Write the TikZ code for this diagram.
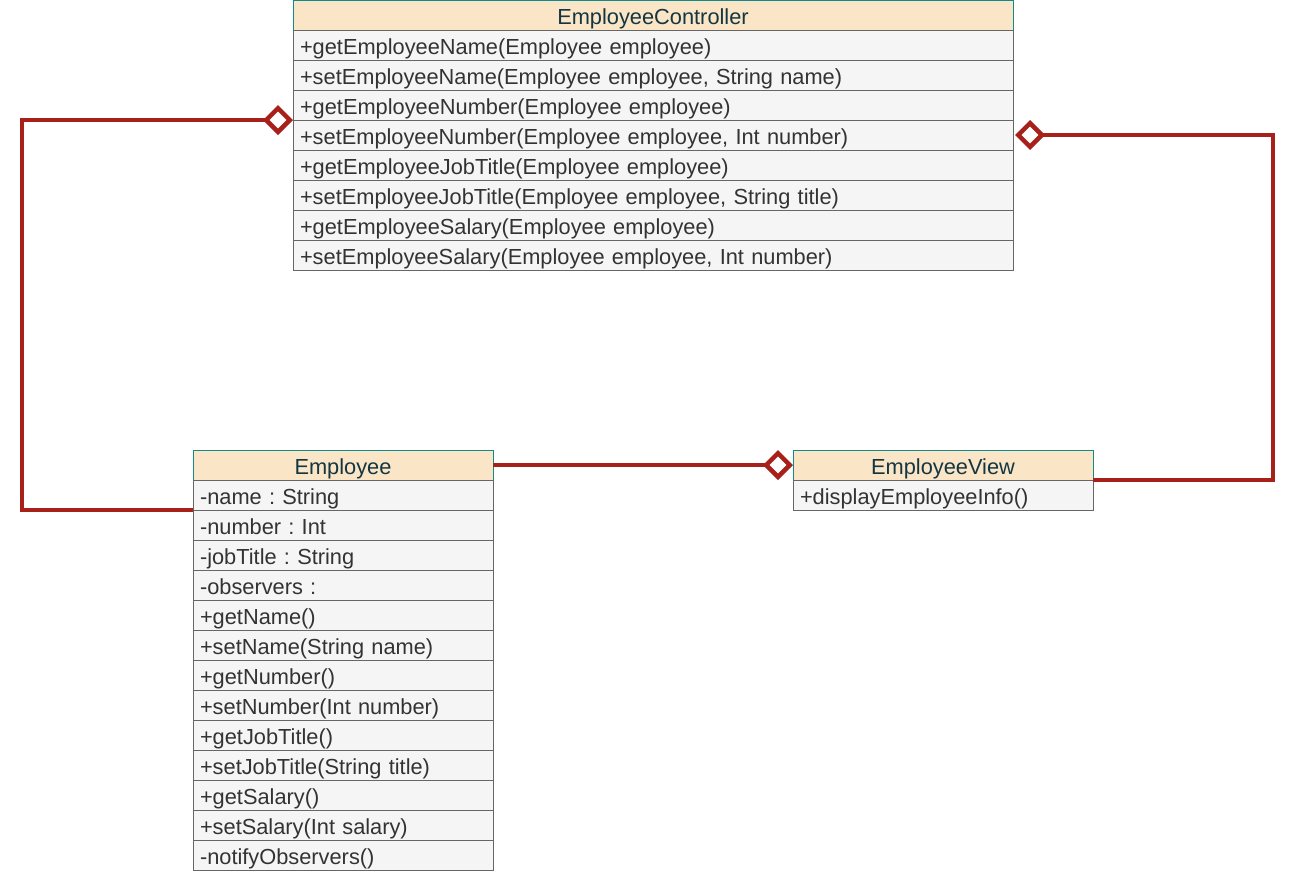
\documentclass[tikz,border=0pt]{standalone}
\usepackage{fontspec}
\setmainfont{Liberation Sans}
\usetikzlibrary{arrows.meta}
\definecolor{hdrfill}{HTML}{FAE5C7}
\definecolor{hdrdraw}{HTML}{0F8B8D}
\definecolor{hdrtext}{HTML}{143642}
\definecolor{rowfill}{HTML}{F5F5F5}
\definecolor{rowdraw}{HTML}{666666}
\definecolor{rowtext}{HTML}{333333}
\definecolor{linkred}{HTML}{A8201A}
\frenchspacing
\begin{document}
\begin{tikzpicture}[x=1pt,y=-1pt,
  cell/.style={rectangle, anchor=north west, outer sep=0pt, inner ysep=0pt, inner xsep=7pt,
    minimum height=30pt, text height=21pt, text depth=3pt, line width=1pt,
    font=\fontsize{21.8}{24}\selectfont},
  hdr/.style={cell, fill=hdrfill, draw=hdrdraw, text=hdrtext, align=center},
  row/.style={cell, fill=rowfill, draw=rowdraw, text=rowtext, align=left},
  wc/.style={text width=706pt},
  we/.style={text width=286pt},
  conn/.style={draw=linkred, line width=4.5pt, -{Diamond[open,length=30pt,width=30pt]}}
]
\useasboundingbox (0,0) rectangle (1299,871);

% EmployeeController
\node[hdr, wc] (ch) at (293,0) {EmployeeController};
\foreach \t [count=\i] in {
  {+getEmployeeName(Employee employee)},
  {+setEmployeeName(Employee employee, String name)},
  {+getEmployeeNumber(Employee employee)},
  {+setEmployeeNumber(Employee employee, Int number)},
  {+getEmployeeJobTitle(Employee employee)},
  {+setEmployeeJobTitle(Employee employee, String title)},
  {+getEmployeeSalary(Employee employee)},
  {+setEmployeeSalary(Employee employee, Int number)}}
  \node[row, wc] (c\i) at (293,30*\i) {\t};

% Employee
\node[hdr, we] (eh) at (193,450) {Employee};
\foreach \t [count=\i] in {
  {-name : String},
  {-number : Int},
  {-jobTitle : String},
  {-observers :},
  {+getName()},
  {+setName(String name)},
  {+getNumber()},
  {+setNumber(Int number)},
  {+getJobTitle()},
  {+setJobTitle(String title)},
  {+getSalary()},
  {+setSalary(Int salary)},
  {-notifyObservers()}}
  \node[row, we] (e\i) at (193,450+30*\i) {\t};

% EmployeeView
\node[hdr, we] (vh) at (793,450) {EmployeeView};
\node[row, we] (v1) at (793,480) {+displayEmployeeInfo()};

% connectors
\coordinate (bendL) at (22,120);
\coordinate (bendR) at (1273,135);
\draw[conn] (e1.south west) -| (bendL) -- (c3.south west);
\draw[conn] (eh.east) -- (vh.west);
\draw[conn, shorten >=2pt] (vh.south east) -| (bendR) -- (c4.east);
\end{tikzpicture}
\end{document}
